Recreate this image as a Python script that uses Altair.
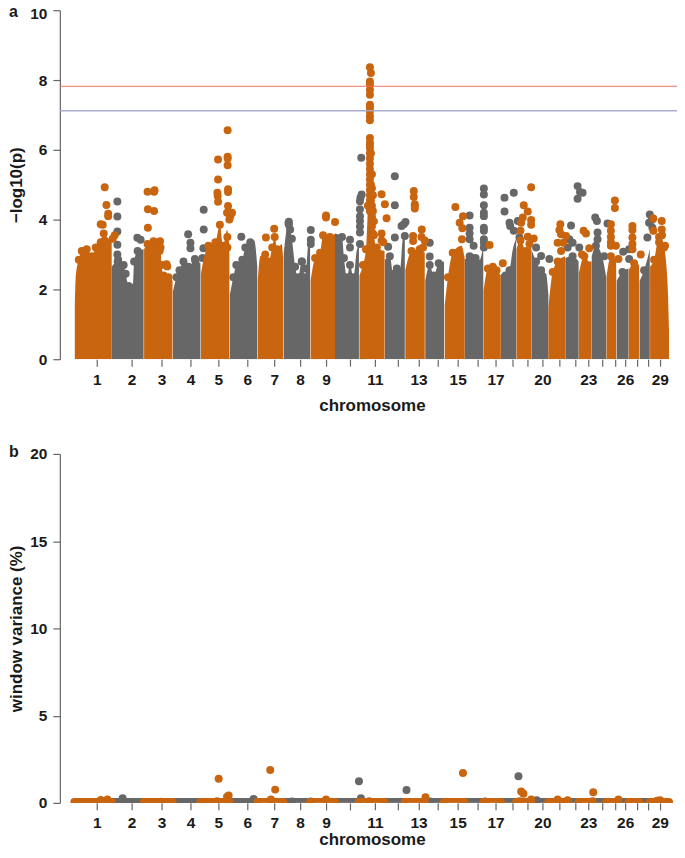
import altair as alt
import pandas as pd

ORANGE = "#C9640F"
GRAY = "#666766"

chrom_edges = [73.5, 111, 143, 172, 200, 229, 257, 283, 310, 335, 359, 384.7, 405, 425, 444.3, 465,
               483.7, 501.3, 516.7, 531.7, 549, 565.7, 579.3, 592.3, 607, 617, 629.3, 640, 650.7, 670]
tick_pos = [96, 131, 161, 190, 218, 247, 274, 300, 326, 350, 375, 398, 418.7, 438, 458, 478, 496,
            512.7, 527.7, 543, 560, 576, 589, 603, 615.7, 626, 638, 649, 660.7]
tick_txt = ["1", "2", "3", "4", "5", "6", "7", "8", "9", "", "11", "", "13", "", "15", "", "17",
            "", "", "20", "", "", "23", "", "", "26", "", "", "29"]

# upper outline of the solid mass, per chromosome (panel a)
top_x = [
    [74, 75, 78, 81, 86, 91, 95, 100, 104, 108, 111],
    [111, 117, 123, 125, 128, 132, 133.5, 137, 143],
    [143.5, 147, 153, 159.5, 161, 163, 168, 172],
    [172.5, 176, 179, 183, 188, 195, 200],
    [200.5, 203.5, 208, 215, 219.5, 222.7, 226.7, 229],
    [229.5, 233, 236, 242, 245, 250, 254, 257],
    [257.5, 260, 265, 268.5, 272, 274.5, 277, 281.5, 283],
    [283.5, 288.3, 291.7, 295, 298, 301.7, 305, 308.3, 310],
    [310.5, 315, 320, 323, 330, 335],
    [335, 342, 344, 347, 350, 353.5, 356.7, 359],
    [359.5, 363, 366, 368, 370, 372, 374, 377, 384.7],
    [385, 390, 393.5, 397, 400, 403, 405],
    [405.5, 411.7, 420, 425],
    [425.5, 430, 434, 439, 444.3],
    [445, 448.3, 453, 461.7, 465],
    [465, 470, 473.3, 476, 480, 483.7],
    [484, 488.3, 493.3, 497, 501.3],
    [501.5, 506, 510, 513.3, 516.7],
    [517, 521, 526.7, 531.7],
    [532, 536.7, 541.7, 546.7, 549],
    [549, 553.3, 558.3, 565.7],
    [566, 573.3, 579.3],
    [579.5, 585, 590, 592.3],
    [592.5, 596.7, 603.3, 607],
    [607.3, 611.7, 617],
    [617.5, 623.3, 629.3],
    [629.5, 635, 640],
    [640.5, 645, 650.7],
    [651, 655, 660, 665, 667.7, 669, 670],
]
top_y = [
    [1.5, 2.4, 2.85, 3.1, 3.15, 2.95, 3.2, 3.35, 3.4, 3.45, 3.5],
    [2.65, 2.8, 2.7, 2.45, 2.1, 2.05, 2.8, 3.1, 3.15],
    [3.15, 3.3, 3.38, 3.38, 2.7, 2.4, 2.35, 2.25],
    [1.95, 2.35, 2.55, 2.8, 2.65, 2.8, 2.75],
    [2.45, 2.9, 3.25, 3.35, 3.85, 3.25, 3.7, 3.25],
    [1.85, 2.35, 2.7, 2.85, 3.2, 3.35, 3.4, 2.65],
    [2.25, 2.95, 3.0, 2.8, 3.2, 3.5, 3.15, 3.3, 2.85],
    [2.95, 3.9, 3.45, 2.65, 2.35, 2.8, 2.35, 3.35, 3.55],
    [2.25, 2.9, 3.05, 3.55, 3.5, 3.6],
    [3.6, 3.5, 2.9, 2.35, 2.7, 2.35, 3.1, 3.25],
    [2.4, 2.7, 3.15, 4.4, 6.15, 4.9, 3.55, 3.2, 3.1],
    [2.85, 2.95, 2.45, 2.6, 2.5, 3.45, 3.55],
    [2.55, 3.1, 3.15, 3.05],
    [2.25, 2.7, 2.4, 2.75, 2.8],
    [1.55, 2.35, 3.05, 3.25, 2.9],
    [2.85, 2.95, 2.9, 2.9, 2.85, 3.25],
    [1.95, 2.6, 2.65, 2.55, 2.4],
    [2.45, 2.4, 2.55, 3.15, 3.45],
    [3.15, 3.4, 3.1, 3.25],
    [3.15, 2.8, 2.55, 2.45, 1.85],
    [1.45, 2.5, 2.8, 2.95],
    [2.9, 2.95, 2.8],
    [2.45, 2.95, 2.8, 2.8],
    [2.95, 3.25, 2.9, 2.35],
    [2.35, 2.95, 2.85],
    [2.25, 2.5, 2.6],
    [2.55, 2.75, 2.7],
    [2.25, 2.55, 3.15],
    [2.65, 2.85, 3.5, 3.2, 2.55, 1.85, 0.8],
]

# isolated points, panel a
orange_x = [104, 105.7, 107.5, 107.5, 100, 102, 103, 112, 114,
            147, 153.5, 154, 147.3, 153.5, 147.3, 166, 166.7, 160, 159,
            217.7, 227.3, 227.3, 227.3, 227.3, 217.7, 217, 217.3, 217.7, 227.7, 227.7, 227.7, 226.7, 231.7, 230, 229, 227, 227,
            265.7, 274, 326, 326, 335,
            381.7, 385, 386.7, 381.7, 381.7, 383.5,
            414, 414, 415, 415, 415, 422, 413.3, 413.3, 421.7, 425, 423.3,
            455.7, 463.3, 460, 462.7, 462.3,
            490, 503.3,
            531.7, 524.3, 528.3, 523.3, 531.7, 531.7, 521.7, 521, 528.3, 534.3, 530,
            561, 560, 561.7, 558.3, 566.7, 561.7, 564,
            584.3, 586.7, 590, 582.7,
            615.7, 615.7, 611.7, 611.7, 611.7, 611.7, 611.7, 616.7, 619.3,
            633.3, 633.3, 633.3, 633.3, 633.3, 641.7,
            654.3, 662.7, 662.7, 654.3, 663, 660, 666]
orange_y = [4.93, 4.42, 4.17, 4.1, 3.87, 3.85, 3.6, 3.45, 3.55,
            4.8, 4.8, 4.84, 4.3, 4.25, 3.77, 2.72, 2.66, 3.2, 3.1,
            5.72, 6.56, 5.8, 5.75, 5.56, 5.15, 4.77, 4.68, 4.51, 4.87, 4.79, 4.39, 4.2, 4.2, 4.1, 4.0, 3.5, 3.2,
            3.49, 3.74, 4.12, 4.06, 3.93,
            4.73, 4.44, 4.04, 3.6, 3.4, 3.35,
            4.82, 4.65, 4.44, 4.38, 4.32, 3.72, 3.53, 3.39, 3.5, 3.4, 3.2,
            4.36, 4.1, 3.91, 3.75, 3.44,
            3.27, 2.75,
            4.93, 4.41, 4.23, 4.06, 3.99, 3.85, 3.91, 3.68, 3.51, 3.46, 3.3,
            3.87, 3.7, 3.58, 3.34, 3.53, 3.1, 3.34,
            3.68, 3.6, 3.18, 3.0,
            4.55, 4.33, 3.87, 3.68, 3.5, 3.35, 3.25, 3.25, 2.87,
            3.82, 3.7, 3.49, 3.3, 3.15, 3.0,
            4.03, 3.96, 3.72, 3.68, 3.55, 3.35, 3.25]

peak_x = [370, 371, 370, 370, 370, 370, 370, 370, 370, 370, 370,
          370, 370, 370, 370, 370, 370, 370, 370, 370, 370, 370, 370, 370, 370, 370,
          371, 372, 371, 373, 371, 372, 373, 372, 374, 372, 373]
peak_y = [8.37, 8.2, 7.96, 7.87, 7.72, 7.58, 7.29, 7.2, 7.1, 6.96, 6.85,
          6.34, 6.2, 6.05, 5.9, 5.75, 5.6, 5.45, 5.3, 5.15, 5.0, 4.85, 4.7, 4.55, 4.4, 4.25,
          5.9, 5.3, 5.0, 4.7, 4.55, 4.4, 4.25, 4.1, 3.95, 3.8, 3.6]

gray_x = [116.7, 116.7, 116.7, 116.7, 116.7, 117.5, 136.7, 140,
          187.7, 190, 190, 203.3, 203.3, 203, 202, 194.5,
          241, 288.7, 288.7, 290, 310.7, 310.7, 310.7, 301.7, 305,
          350, 350,
          361.3, 361.7, 360.5, 360, 360, 360, 360, 360, 360, 360,
          395, 395, 395, 388.3, 401.7, 405.7, 404, 405,
          430, 430,
          470, 470, 470, 470, 474,
          484.3, 484.3, 484.3, 484.3, 484.3, 484.3, 484.3, 484.3, 484.3, 484.3,
          505, 514.3, 505, 510, 510.7, 514.3, 518.3, 520,
          536.7, 541.7, 550,
          571.7, 570, 573.3, 580, 568.3,
          578.3, 580.7, 583.3, 578.3,
          596, 597.7, 598.3, 598.3, 608.3, 605,
          624, 630, 630,
          650.7, 652.7, 648.3, 650, 653.3]
gray_y = [4.52, 4.09, 3.66, 3.28, 3.0, 2.85, 3.48, 3.42,
          3.58, 3.34, 3.18, 4.28, 3.72, 3.18, 2.9, 2.87,
          3.51, 3.94, 3.85, 3.72, 3.7, 3.42, 3.3, 2.8, 2.6,
          3.42, 3.2,
          5.77, 4.72, 4.63, 4.53, 4.3, 4.1, 3.96, 3.8, 3.63, 3.3,
          5.24, 4.41, 3.49, 3.22, 3.82, 3.93, 3.87, 3.53,
          3.34, 2.94,
          4.12, 3.77, 3.6, 3.44, 3.25,
          4.89, 4.72, 4.41, 4.2, 4.1, 3.77, 3.68, 3.44, 3.34, 3.2,
          4.63, 4.77, 4.23, 3.91, 3.82, 3.68, 3.96, 3.49,
          3.2, 2.96, 2.87,
          3.83, 3.44, 3.34, 3.2, 3.2,
          4.96, 4.79, 4.77, 4.6,
          4.06, 3.96, 3.63, 3.44, 3.89, 2.95,
          3.08, 3.15, 2.87,
          4.15, 3.99, 3.49, 3.91, 3.77]

thresholds = [7.82, 7.12]
threshold_colors = ["#EE6F57", "#A3A9CB"]
threshold_widths = [1.1, 1.6]

# panel b
band_level = 0.28
band_dot = 0.05
b_orange_x = [100, 106.7, 150.7, 160, 216.7, 218.3, 228.3, 226.7, 270, 275, 270.7, 326,
              369.3, 425.7, 463.3, 521.7, 524, 520, 531.7, 558.3, 568.3, 594, 593.3, 619.3, 661, 658]
b_orange_y = [0.17, 0.2, 0.05, 0.07, 0.1, 1.38, 0.42, 0.35, 1.89, 0.76, 0.2, 0.2,
              0.1, 0.33, 1.71, 0.65, 0.52, 0.1, 0.2, 0.2, 0.15, 0.61, 0.1, 0.2, 0.15, 0.12]
b_gray_x = [122, 253.3, 291.7, 310.7, 359, 361, 406.7, 430.7, 485.7, 519, 537.3]
b_gray_y = [0.27, 0.23, 0.08, 0.08, 1.24, 0.27, 0.74, 0.08, 0.08, 1.52, 0.15]

FONT = "Liberation Sans"
INK = "#1A1A1A"
AXC = "#666666"


def is_orange(i):
    return i % 2 == 0


outline = pd.DataFrame(
    [{"x": x, "y": y, "chrom": i + 1, "tone": "o" if is_orange(i) else "g",
      "inside": chrom_edges[i] + 4 <= x <= chrom_edges[i + 1] - 4}
     for i, (xs, ys) in enumerate(zip(top_x, top_y)) for x, y in zip(xs, ys)]
)
band = pd.DataFrame(
    [{"x": chrom_edges[i + k], "y": band_level, "d": band_dot, "chrom": i + 1, "tone": "o" if is_orange(i) else "g"}
     for i in range(len(chrom_edges) - 1) for k in (0, 1)]
)


def xenc(title, pad):
    ax = alt.Axis(values=tick_pos, title=title, domain=False, grid=False, tickSize=7, tickColor=AXC,
                  tickWidth=1.2, labelFont=FONT, labelFontSize=15.5, labelFontWeight="bold", labelColor=INK,
                  labelPadding=6, labelOverlap=False, labelFlush=False,
                  labelExpr="%s[indexof(%s, datum.value)]" % (tick_txt, tick_pos),
                  titleFont=FONT, titleFontSize=17, titleFontWeight="bold", titleColor=INK, titlePadding=pad)
    return alt.X("x:Q", scale=alt.Scale(domain=[59, 685], nice=False, zero=False), axis=ax)


def yenc(title, top, vals, field="y"):
    ax = alt.Axis(values=vals, title=title, grid=False, domain=True, domainColor=AXC, domainWidth=1.2,
                  tickSize=7, tickColor=AXC, tickWidth=1.2, labelFont=FONT, labelFontSize=15.5,
                  labelFontWeight="bold", labelColor=INK, labelPadding=6,
                  labelOffset=alt.expr("datum.value == 10 ? 3 : 0") if top == 10 else 0,
                  titleFont=FONT, titleFontSize=17, titleFontWeight="bold", titleColor=INK, titlePadding=4)
    return alt.Y(field + ":Q", scale=alt.Scale(domain=[0, top], nice=False, zero=False), axis=ax, stack=None)


def pts(xs, ys, color, X, Y):
    d = pd.DataFrame({"x": xs, "y": ys})
    return alt.Chart(d).mark_circle(size=64, color=color, opacity=1, clip=True).encode(x=X, y=Y)


def letter(t, ypos):
    return alt.Chart(pd.DataFrame({"t": [t]})).mark_text(
        font=FONT, fontSize=16, fontWeight="bold", color=INK, align="left", baseline="alphabetic"
    ).encode(x=alt.value(-51), y=alt.value(ypos), text="t:N")


X_a, Y_a = xenc("chromosome", 10), yenc("\u2212log10(p)", 10, [0, 2, 4, 6, 8, 10])
gray_o = outline[outline.tone == "g"]
or_o = outline[outline.tone == "o"]
gray_d = gray_o[gray_o.inside]
or_d = or_o[or_o.inside]

panel_a = alt.layer(
    alt.Chart(gray_o).mark_area(color=GRAY, clip=True, interpolate="monotone").encode(x=X_a, y=Y_a, detail="chrom:N"),
    pts(gray_d.x.tolist(), gray_d.y.tolist(), GRAY, X_a, Y_a),
    pts(gray_x, gray_y, GRAY, X_a, Y_a),
    alt.Chart(or_o).mark_area(color=ORANGE, clip=True, interpolate="monotone").encode(x=X_a, y=Y_a, detail="chrom:N"),
    pts(or_d.x.tolist(), or_d.y.tolist(), ORANGE, X_a, Y_a),
    pts(orange_x, orange_y, ORANGE, X_a, Y_a),
    pts(peak_x, peak_y, ORANGE, X_a, Y_a),
    alt.Chart(pd.DataFrame({"y": thresholds, "c": threshold_colors, "w": threshold_widths})).mark_rule(opacity=0.95).encode(
        y=alt.Y("y:Q"), color=alt.Color("c:N", scale=None), size=alt.Size("w:Q", scale=None)
    ),
    letter("a", 7),
).properties(width=626, height=350)

X_b, Y_b = xenc("chromosome", 0), yenc("window variance (%)", 20, [0, 5, 10, 15, 20])
gray_b = band[band.tone == "g"]
or_b = band[band.tone == "o"]

panel_b = alt.layer(
    alt.Chart(gray_b).mark_area(color=GRAY, clip=True).encode(x=X_b, y=Y_b, detail="chrom:N"),
    pts(b_gray_x, b_gray_y, GRAY, X_b, Y_b),
    alt.Chart(or_b).mark_area(color=ORANGE, clip=True).encode(x=X_b, y=Y_b, detail="chrom:N"),
    pts(or_b.x.tolist(), or_b.d.tolist(), ORANGE, X_b, Y_b),
    pts(b_orange_x, b_orange_y, ORANGE, X_b, Y_b),
    letter("b", 3),
).properties(width=626, height=350)

chart = alt.vconcat(panel_a, panel_b, spacing=30).properties(
    padding={"left": -1, "top": -5, "right": -8, "bottom": -3}, background="white"
).configure_view(stroke=None).resolve_scale(color="independent")

chart.save("out.html", embed_options={"renderer": "svg", "actions": False})
